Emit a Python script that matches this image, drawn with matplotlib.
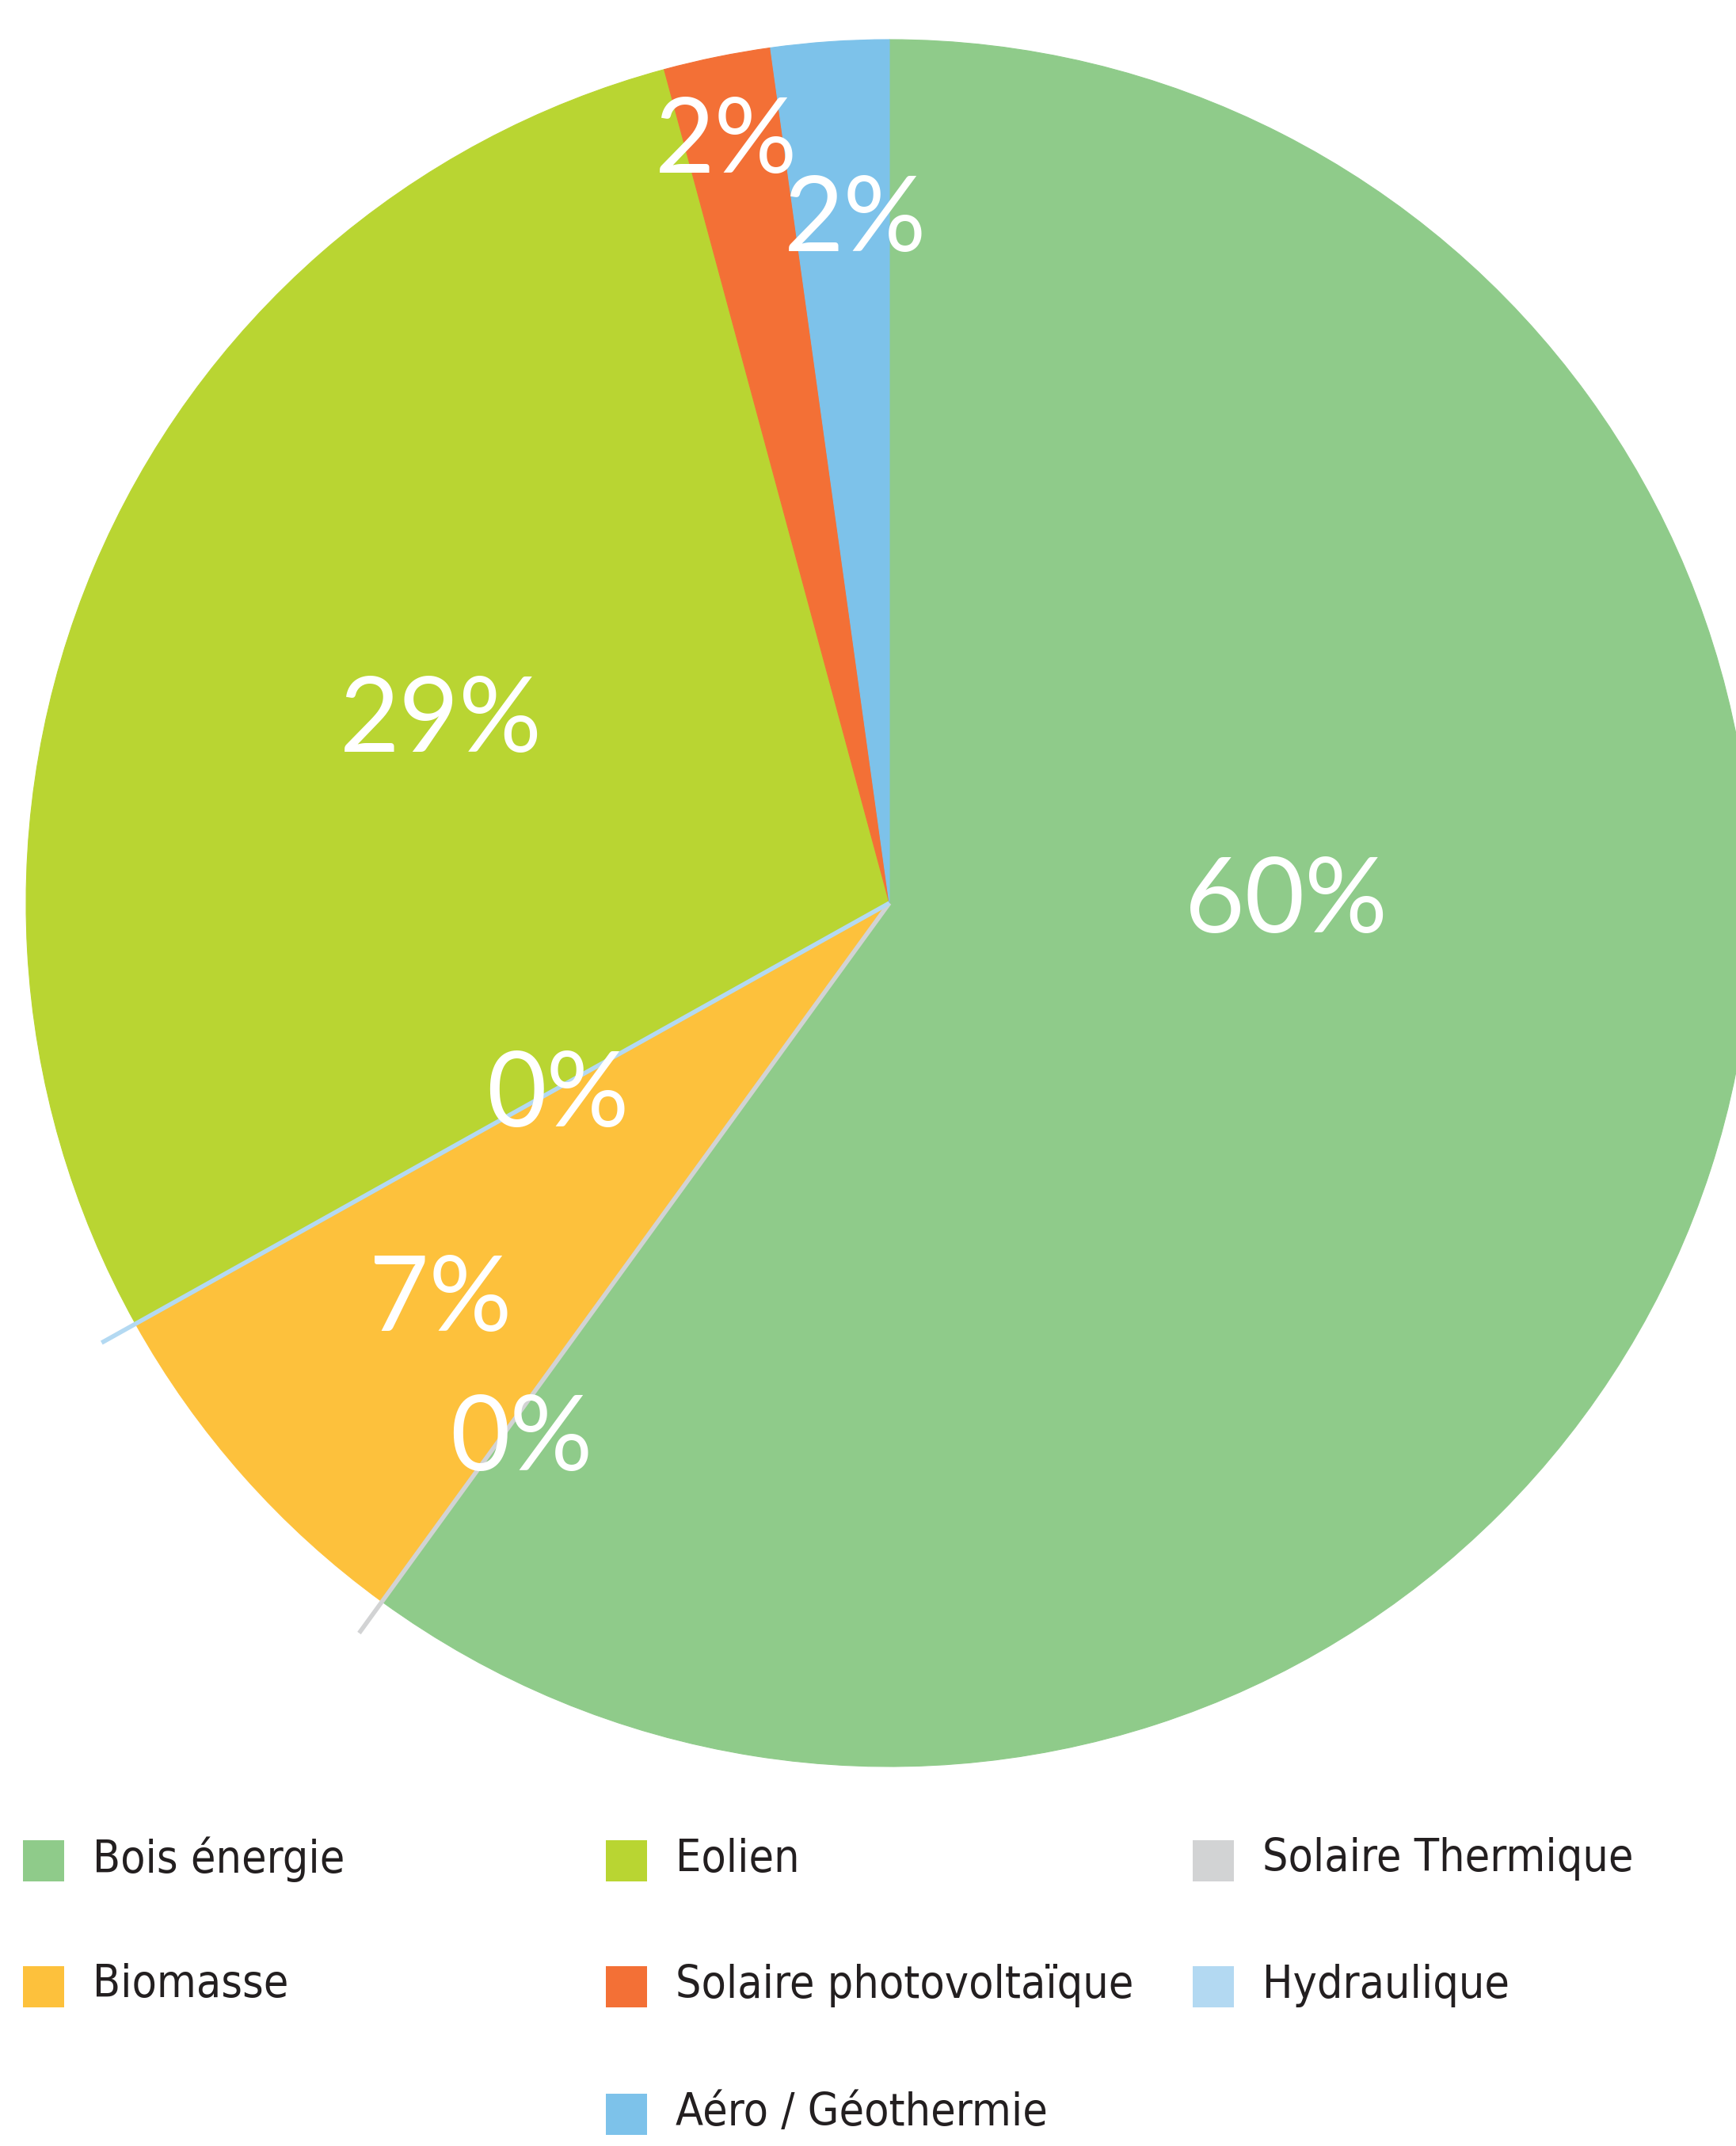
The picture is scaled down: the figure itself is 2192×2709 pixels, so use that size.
import numpy as np
import matplotlib
matplotlib.use("Agg")
from matplotlib import pyplot as plt
from matplotlib import font_manager
from matplotlib.patches import Rectangle

# slices in clockwise order from 12 o'clock
slice_names = ["Bois énergie", "Solaire Thermique", "Biomasse", "Hydraulique",
               "Eolien", "Solaire photovoltaïque", "Aéro / Géothermie"]
slice_values = [60.0, 0.0, 6.9, 0.0, 28.9, 2.0, 2.2]
slice_labels = ["60%", "0%", "7%", "0%", "29%", "2%", "2%"]
slice_colors = ["#8fcb8a", "#d2d3d4", "#fdc13c", "#b3d9f2", "#b9d532", "#f37036", "#7dc2ea"]

# legend order, row by row
legend_names = ["Bois énergie", "Eolien", "Solaire Thermique",
                "Biomasse", "Solaire photovoltaïque", "Hydraulique",
                "Aéro / Géothermie"]

# label placement (fraction of radius, angle shift in degrees)
label_radius = [0.46, 0.755, 0.695, 0.445, 0.56, 0.90, 0.79]
label_shift = [-18, -1.6, 0, -1.2, -0.9, -0.6, 1.1]

W, H = 2192, 2709
cx, cy, R = 1123, 1140, 1090  # pie centre and radius in pixels

# the legend uses a narrow upright face; pick one if the box has it
narrow = [f for f in font_manager.fontManager.ttflist
          if ("Narrow" in f.name or "Condensed" in f.name
              or str(f.stretch) in ("condensed", "semi-condensed"))
          and f.style == "normal" and f.weight in (400, "normal", "regular")
          and "Italic" not in f.fname and "Oblique" not in f.fname]
if narrow:
    leg_font = dict(fontproperties=font_manager.FontProperties(fname=narrow[0].fname, size=41))
else:
    leg_font = dict(family=["Roboto", "DejaVu Sans"], fontsize=40)

fig = plt.figure(figsize=(W / 100, H / 100), dpi=100)
ax = fig.add_axes([0, 0, 1, 1])

wedges, _ = ax.pie(slice_values, colors=slice_colors, startangle=90,
                   counterclock=False, radius=1.0)
for w in wedges:
    w.set_edgecolor(w.get_facecolor())
    w.set_linewidth(0.8)

# zero slices drawn as thin spokes that poke out of the pie
total = sum(slice_values)
cum = np.cumsum([0] + slice_values) / total * 360
for i, v in enumerate(slice_values):
    if v == 0:
        a = np.deg2rad(cum[i])
        ax.plot([0, 1.045 * np.sin(a)], [0, 1.045 * np.cos(a)],
                color=slice_colors[i], lw=4, solid_capstyle="butt", zorder=3)

# percentage labels
for i, lab in enumerate(slice_labels):
    mid = (cum[i] + cum[i + 1]) / 2 + label_shift[i]
    a = np.deg2rad(mid)
    r = label_radius[i]
    ax.text(r * np.sin(a), r * np.cos(a), lab, color="white", fontsize=94,
            family=["Lato", "DejaVu Sans"], ha="center", va="center", zorder=4)

ax.set_xlim(-cx / R, (W - cx) / R)
ax.set_ylim(-(H - cy) / R, cy / R)
ax.set_aspect("auto")
ax.axis("off")

# legend, three columns, last row centred
col_x = [29, 765, 1506]
row_y = [2349, 2508, 2669]
sq = 52
color_of = dict(zip(slice_names, slice_colors))
for k, name in enumerate(legend_names):
    row, col = divmod(k, 3)
    n_in_row = min(3, len(legend_names) - row * 3)
    col += (3 - n_in_row) // 2
    x0, y0 = col_x[col], row_y[row]
    fig.add_artist(Rectangle((x0 / W, 1 - (y0 + sq / 2) / H), sq / W, sq / H,
                             transform=fig.transFigure, color=color_of[name], lw=0))
    fig.text((x0 + 88) / W, 1 - (y0 - 2) / H, name, color="#231f20",
             ha="left", va="center", **leg_font)

fig.savefig("out.png", dpi=100)
